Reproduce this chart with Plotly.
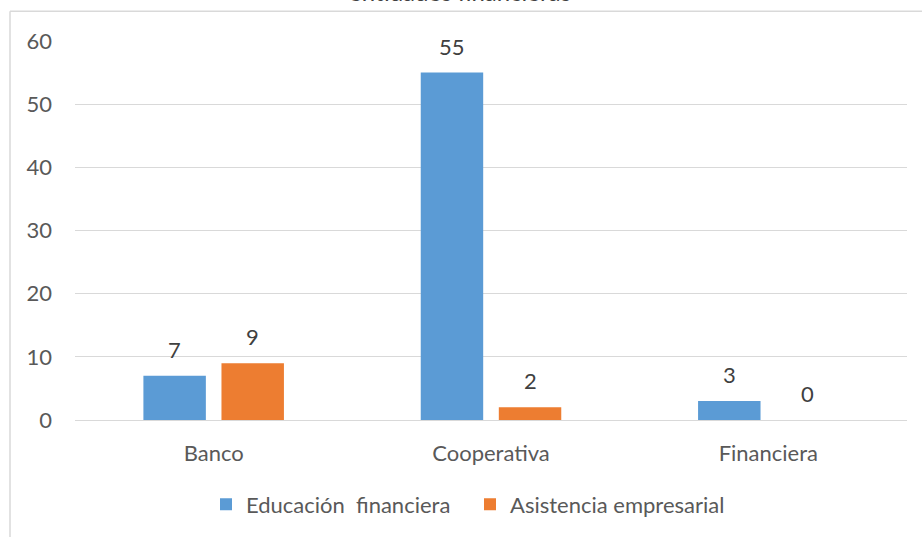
import plotly.graph_objects as go

categorias = ["Banco", "Cooperativa", "Financiera"]
educacion = [7, 55, 3]
asistencia = [9, 2, 0]
serie_nombres = ["Educación  financiera", "Asistencia empresarial"]
titulo = "entidades financieras"

FONT = "Lato"
GRIS = "#595959"
OSCURO = "#404040"

W, H = 922, 537
ML, MR, MT, MB = 75, 15, 41, 115
pw, ph = W - ML - MR, H - MT - MB

def px_x(x):
    return (x - ML) / pw

def px_y(y):
    return (H - MB - y) / ph

series = [
    (serie_nombres[0], educacion, "#5B9BD5", -39),
    (serie_nombres[1], asistencia, "#ED7D31", 39),
]

fig = go.Figure()
for nombre, valores, color, desplaz in series:
    fig.add_trace(go.Bar(
        x=categorias, y=valores, name=nombre,
        marker=dict(color=color, line=dict(width=0)),
    ))
    # value labels above each bar
    for cat, v in zip(categorias, valores):
        fig.add_annotation(
            x=cat, y=v, xref="x", yref="y", text=str(v), showarrow=False,
            xshift=desplaz, yanchor="bottom", yshift=11,
            font=dict(family=FONT, size=22, color=OSCURO),
        )

fig.update_layout(
    width=W, height=H,
    margin=dict(l=ML, r=MR, t=MT, b=MB),
    paper_bgcolor="white", plot_bgcolor="white",
    barmode="group", bargap=0.437, bargroupgap=0.2,
    font=dict(family=FONT, size=22, color=GRIS),
    showlegend=True,
    legend=dict(orientation="h", x=px_x(206), xanchor="left",
                y=px_y(507), yanchor="middle",
                font=dict(family=FONT, size=22, color=GRIS),
                itemwidth=30, traceorder="normal",
                entrywidth=219, entrywidthmode="pixels"),
    xaxis=dict(showgrid=False, showline=False, ticks="",
               ticklabelstandoff=18,
               tickfont=dict(family=FONT, size=22, color=GRIS)),
    yaxis=dict(range=[0, 60], dtick=10, showgrid=True, gridcolor="#D9D9D9",
               gridwidth=1, zeroline=True, zerolinecolor="#D9D9D9",
               zerolinewidth=1, showline=False, ticks="",
               ticklabelstandoff=22,
               tickfont=dict(family=FONT, size=22, color=GRIS)),
)

# Chart-area frame (left and top edges)
fig.add_shape(type="line", xref="paper", yref="paper",
              x0=px_x(10), x1=px_x(10), y0=px_y(11), y1=px_y(540),
              line=dict(color="#D9D9D9", width=1.5))
fig.add_shape(type="line", xref="paper", yref="paper",
              x0=px_x(10), x1=px_x(925), y0=px_y(11), y1=px_y(11),
              line=dict(color="#D9D9D9", width=1.5))

fig.add_annotation(text=titulo, xref="paper", yref="paper",
                   x=px_x(460), y=px_y(8), xanchor="center", yanchor="bottom",
                   showarrow=False,
                   font=dict(family=FONT, size=24, color=OSCURO))

fig.write_html("out.html")
